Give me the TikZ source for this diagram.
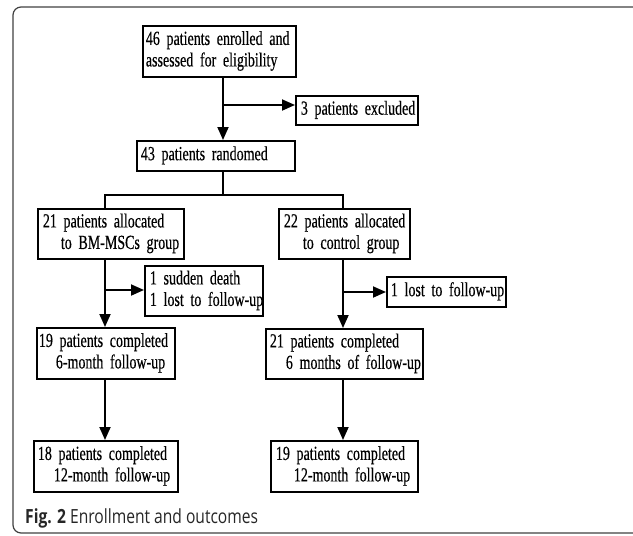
\documentclass[tikz,border=0pt]{standalone}
\usepackage{fontspec}
\setmainfont[FakeStretch=0.70,FakeBold=0.4]{Liberation Serif}
\newfontfamily\capfont[FakeStretch=0.8]{Open Sans}
\usetikzlibrary{arrows.meta}
\newcommand\bxt[2]{\hspace*{#1pt}\begin{tabular}{@{}l@{}}#2\end{tabular}}
\begin{document}
\begin{tikzpicture}[x=1pt,y=-1pt,
  box/.style={draw, line width=1.8pt, anchor=north west, inner xsep=0pt, inner ysep=0pt,
    align=left, font=\fontsize{20}{21.5}\selectfont},
  conn/.style={line width=1.8pt},
  arr/.style={line width=1.8pt, -{Triangle[length=13pt,width=11pt]}}]
\useasboundingbox (0,0) rectangle (633,536);
\draw[rounded corners=8pt, line width=1.2pt, black!75] (645,7) -- (13,7) -- (13,533) -- (645,533);

\node[box, text width=153pt, minimum height=51pt] (b1) at (142,25)
  {\bxt{3}{46 patients enrolled and\\assessed for eligibility}};
\node[box, text width=122pt, minimum height=29pt] (excl) at (295,95)
  {\bxt{5}{3 patients excluded}};
\node[box, text width=158pt, minimum height=30pt] (rand) at (136,140)
  {\bxt{4}{43 patients randomed}};
\node[box, text width=146pt, minimum height=50pt] (bm) at (37,208)
  {\bxt{5}{21 patients allocated\\\hspace*{18pt}to BM-MSCs group}};
\node[box, text width=131pt, minimum height=50pt] (ctrl) at (278,208)
  {\bxt{5}{22 patients allocated\\\hspace*{19pt}to control group}};
\node[box, text width=118pt, minimum height=50pt] (death) at (144,265)
  {\bxt{5}{1 sudden death\\1 lost to follow-up}};
\node[box, text width=119pt, minimum height=30pt] (lostr) at (386,276)
  {\bxt{4}{1 lost to follow-up}};
\node[box, text width=138pt, minimum height=51pt] (c19) at (36,327)
  {\bxt{2}{19 patients completed\\\hspace*{17pt}6-month follow-up}};
\node[box, text width=157pt, minimum height=50pt] (c21) at (265,328)
  {\bxt{4}{21 patients completed\\\hspace*{16pt}6 months of follow-up}};
\node[box, text width=144pt, minimum height=51pt] (d18) at (33,440)
  {\bxt{4}{18 patients completed\\\hspace*{16pt}12-month follow-up}};
\node[box, text width=147pt, minimum height=51pt] (d19) at (270,440)
  {\bxt{5}{19 patients completed\\\hspace*{18pt}12-month follow-up}};

\coordinate (xa) at (223,0);
\coordinate (xl) at (105,0);
\coordinate (xr) at (343,0);
\coordinate (br1) at (223,105);
\coordinate (split) at (223,195);
\coordinate (sl) at (105,195);
\coordinate (sr) at (343,195);
\coordinate (br2) at (105,290);
\coordinate (br3) at (343,292);

\draw[arr] (b1.south -| xa) -- (rand.north -| xa);
\draw[arr] (br1) -- (br1 -| excl.west);
\draw[conn] (rand.south -| xa) -- (split);
\draw[conn] (bm.north -| sl) -- (sl) -- (sr) -- (ctrl.north -| sr);
\draw[arr] (bm.south -| xl) -- (c19.north -| xl);
\draw[arr] (br2) -- (br2 -| death.west);
\draw[arr] (ctrl.south -| xr) -- (c21.north -| xr);
\draw[arr] (br3) -- (br3 -| lostr.west);
\draw[arr] (c19.south -| xl) -- (d18.north -| xl);
\draw[arr] (c21.south -| xr) -- (d19.north -| xr);

\node[anchor=base west, inner sep=0pt, font=\capfont\fontsize{19.5}{21}\selectfont, text=black!85] (cap) at (25,523)
  {\textbf{Fig. 2} Enrollment and outcomes};
\end{tikzpicture}
\end{document}
